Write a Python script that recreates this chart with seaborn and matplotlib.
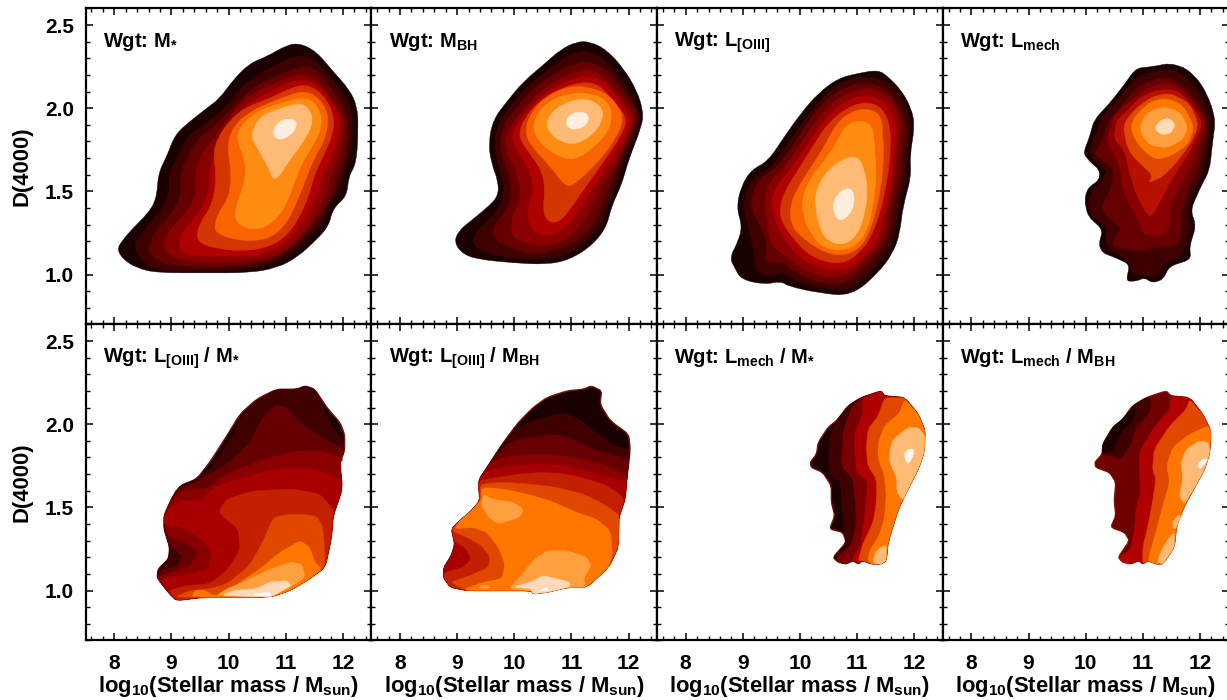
import numpy as np
import pandas as pd
import matplotlib
matplotlib.use('Agg')
import matplotlib.pyplot as plt
import seaborn as sns
from matplotlib.patches import PathPatch
from matplotlib.path import Path
from matplotlib.ticker import MultipleLocator

# --- contour outlines: (log10 stellar mass, D(4000)) ---

PANEL_TITLES = ['M_star', 'M_BH', 'L_OIII', 'L_mech',
                'L_OIII/M_star', 'L_OIII/M_BH', 'L_mech/M_star', 'L_mech/M_BH']

TITLE_TEXT = [r'Wgt: M$_{\mathbf{*}}$',
              r'Wgt: M$_{\mathbf{BH}}$',
              r'Wgt: L$_{\mathbf{[OIII]}}$',
              r'Wgt: L$_{\mathbf{mech}}$',
              r'Wgt: L$_{\mathbf{[OIII]}}$ / M$_{\mathbf{*}}$',
              r'Wgt: L$_{\mathbf{[OIII]}}$ / M$_{\mathbf{BH}}$',
              r'Wgt: L$_{\mathbf{mech}}$ / M$_{\mathbf{*}}$',
              r'Wgt: L$_{\mathbf{mech}}$ / M$_{\mathbf{BH}}$']

XTICKS = [8, 9, 10, 11, 12]
YTICKS = [1.0, 1.5, 2.0, 2.5]

TOP_COLORS = ['#1a0000', '#3f0000', '#660000', '#8a0000', '#b00000',
              '#d33600', '#f86400', '#ff8c12', '#ffbb75', '#ffeedd']
MECH_COLORS = ['#1a0000', '#3f0000', '#660000', '#8a0000', '#b81000',
               '#e04800', '#ff7700', '#ffa040', '#ffdcb8']
RATIO_COLORS = ['#1a0000', '#3f0000', '#660000', '#8a0000', '#a80000', '#c22000',
                '#e04800', '#ff7700', '#ffa040', '#ffd9b8', '#ffffff']
MS_COLORS = ['#1a0000', '#3f0000', '#7a0000', '#b00000', '#e04800', '#ff7700',
             '#ffbb75', '#ffbb75', '#fff5ee']
MBH_COLORS = ['#700000', '#3f0000', '#1a0000', '#b00000', '#e04800', '#ff7700',
              '#ffbb75', '#ffbb75', '#ffbb75', '#fff5ee']

PANEL1 = [
    [(8.05,1.15),(8.13,1.20),(8.33,1.28),(8.57,1.36),(8.74,1.45),(8.77,1.61),(8.92,1.71),(9.06,1.84),(9.32,1.92),(9.62,2.00),(9.85,2.06),(10.08,2.17),(10.37,2.27),(10.67,2.31),(11.02,2.38),(11.25,2.39),(11.54,2.34),(11.83,2.22),(12.12,2.11),(12.25,2.01),(12.27,1.89),(12.24,1.67),(12.10,1.59),(12.07,1.47),(11.83,1.40),(11.75,1.29),(11.54,1.21),(11.19,1.10),(10.84,1.04),(10.37,1.01),(9.62,1.01),(8.74,1.01),(8.39,1.04),(8.16,1.09)],
    [(8.33,1.16),(8.45,1.24),(8.74,1.35),(8.97,1.47),(8.95,1.61),(9.12,1.71),(9.27,1.83),(9.62,1.91),(9.97,2.01),(10.20,2.12),(10.49,2.20),(10.84,2.26),(11.19,2.32),(11.48,2.30),(11.75,2.20),(12.01,2.09),(12.15,1.99),(12.19,1.87),(12.10,1.67),(12.01,1.61),(11.95,1.51),(11.75,1.44),(11.66,1.31),(11.42,1.23),(11.07,1.12),(10.72,1.06),(10.32,1.03),(9.62,1.02),(8.80,1.02),(8.51,1.07)],
    [(8.58,1.16),(8.74,1.27),(8.97,1.35),(9.18,1.47),(9.15,1.61),(9.30,1.71),(9.44,1.81),(9.79,1.90),(10.14,2.03),(10.49,2.14),(10.90,2.20),(11.25,2.25),(11.51,2.24),(11.75,2.14),(11.98,2.03),(12.11,1.91),(12.04,1.69),(11.89,1.59),(11.83,1.47),(11.60,1.35),(11.37,1.25),(11.02,1.14),(10.67,1.08),(10.20,1.05),(9.50,1.04),(8.92,1.06),(8.68,1.10)],
    [(8.84,1.17),(8.97,1.27),(9.27,1.37),(9.44,1.48),(9.41,1.61),(9.50,1.71),(9.73,1.81),(9.97,1.93),(10.26,2.05),(10.61,2.12),(11.02,2.18),(11.31,2.21),(11.54,2.17),(11.77,2.07),(11.98,1.96),(12.03,1.89),(11.95,1.73),(11.80,1.61),(11.69,1.47),(11.48,1.33),(11.25,1.22),(10.90,1.12),(10.55,1.09),(9.97,1.07),(9.32,1.08),(8.97,1.11)],
    [(9.13,1.17),(9.18,1.25),(9.44,1.35),(9.65,1.47),(9.67,1.61),(9.73,1.71),(9.91,1.83),(10.08,1.93),(10.35,2.03),(10.67,2.09),(11.07,2.16),(11.42,2.17),(11.69,2.10),(11.92,1.97),(11.95,1.88),(11.86,1.75),(11.66,1.61),(11.54,1.47),(11.37,1.35),(11.13,1.23),(10.84,1.16),(10.49,1.11),(9.97,1.11),(9.44,1.11),(9.21,1.13)],
    [(9.44,1.23),(9.50,1.31),(9.73,1.43),(9.79,1.61),(9.73,1.71),(9.79,1.81),(10.02,1.93),(10.32,2.01),(10.67,2.05),(11.13,2.13),(11.42,2.14),(11.69,2.07),(11.85,1.95),(11.83,1.85),(11.69,1.73),(11.51,1.61),(11.40,1.47),(11.25,1.35),(11.02,1.23),(10.67,1.16),(10.20,1.14),(9.73,1.16),(9.50,1.19)],
    [(9.75,1.29),(9.82,1.37),(10.02,1.47),(10.05,1.63),(9.97,1.77),(10.08,1.89),(10.37,1.98),(10.84,2.05),(11.31,2.11),(11.60,2.06),(11.76,1.95),(11.69,1.81),(11.48,1.69),(11.31,1.53),(11.16,1.41),(11.02,1.31),(10.78,1.23),(10.49,1.20),(10.08,1.21),(9.79,1.25)],
    [(10.09,1.34),(10.17,1.45),(10.30,1.57),(10.29,1.69),(10.14,1.81),(10.20,1.89),(10.49,1.98),(10.90,2.03),(11.37,2.07),(11.57,2.01),(11.65,1.91),(11.51,1.79),(11.28,1.67),(11.13,1.53),(11.02,1.43),(10.84,1.33),(10.55,1.27),(10.26,1.28)],
    [(10.40,1.85),(10.55,1.95),(10.84,1.99),(11.19,2.03),(11.40,2.01),(11.49,1.92),(11.34,1.81),(11.07,1.69),(10.81,1.55),(10.70,1.64),(10.58,1.72),(10.43,1.80)],
    [(10.77,1.86),(10.87,1.92),(11.07,1.94),(11.20,1.92),(11.16,1.86),(10.96,1.81),(10.81,1.82)],
]

PANEL2 = [
    [(8.95,1.19),(9.02,1.26),(9.23,1.32),(9.52,1.40),(9.72,1.47),(9.72,1.56),(9.60,1.67),(9.55,1.79),(9.63,1.93),(9.87,2.04),(10.16,2.16),(10.51,2.26),(10.80,2.35),(11.09,2.40),(11.33,2.40),(11.62,2.35),(11.91,2.24),(12.14,2.11),(12.26,1.98),(12.23,1.89),(12.00,1.69),(11.88,1.54),(11.70,1.41),(11.62,1.29),(11.38,1.18),(10.98,1.09),(10.57,1.06),(9.98,1.07),(9.40,1.09),(9.11,1.12)],
    [(9.25,1.20),(9.34,1.26),(9.63,1.35),(9.81,1.45),(9.81,1.57),(9.69,1.69),(9.65,1.79),(9.72,1.91),(9.95,2.02),(10.25,2.14),(10.63,2.24),(10.92,2.32),(11.27,2.35),(11.56,2.30),(11.82,2.20),(12.05,2.08),(12.21,1.95),(12.14,1.87),(11.91,1.69),(11.79,1.54),(11.62,1.41),(11.53,1.30),(11.27,1.20),(10.92,1.12),(10.51,1.09),(9.93,1.10),(9.46,1.13)],
    [(9.62,1.25),(9.69,1.32),(9.93,1.41),(9.95,1.55),(9.81,1.69),(9.74,1.79),(9.81,1.90),(10.04,2.00),(10.33,2.12),(10.68,2.20),(11.03,2.27),(11.33,2.28),(11.62,2.23),(11.88,2.12),(12.11,2.01),(12.17,1.94),(12.06,1.86),(11.85,1.71),(11.70,1.55),(11.53,1.43),(11.44,1.32),(11.21,1.23),(10.86,1.16),(10.45,1.12),(9.98,1.15),(9.69,1.20)],
    [(9.94,1.27),(9.98,1.37),(10.13,1.47),(10.07,1.59),(9.90,1.71),(9.84,1.80),(9.93,1.89),(10.16,1.99),(10.45,2.10),(10.80,2.18),(11.15,2.23),(11.44,2.23),(11.73,2.12),(12.00,2.02),(12.11,1.94),(12.00,1.83),(11.80,1.67),(11.59,1.57),(11.38,1.43),(11.21,1.31),(10.92,1.21),(10.57,1.17),(10.16,1.19),(9.98,1.23)],
    [(10.23,1.31),(10.25,1.41),(10.33,1.51),(10.28,1.63),(10.04,1.75),(9.95,1.82),(10.04,1.91),(10.28,2.01),(10.57,2.10),(10.92,2.16),(11.27,2.20),(11.56,2.17),(11.82,2.06),(12.05,1.94),(11.95,1.83),(11.70,1.69),(11.48,1.58),(11.21,1.43),(10.98,1.31),(10.68,1.23),(10.39,1.24)],
    [(10.50,1.39),(10.54,1.51),(10.48,1.63),(10.22,1.75),(10.07,1.83),(10.16,1.93),(10.42,2.04),(10.80,2.12),(11.21,2.16),(11.50,2.14),(11.76,2.03),(11.98,1.94),(11.88,1.84),(11.55,1.67),(11.25,1.53),(10.98,1.39),(10.77,1.31),(10.57,1.32)],
    [(10.93,1.53),(10.80,1.57),(10.63,1.65),(10.33,1.76),(10.19,1.84),(10.25,1.95),(10.51,2.06),(10.92,2.13),(11.27,2.13),(11.62,2.09),(11.85,2.00),(11.91,1.92),(11.76,1.81),(11.50,1.69),(11.21,1.59),(11.03,1.54)],
    [(10.92,1.69),(10.57,1.75),(10.33,1.85),(10.36,1.95),(10.63,2.05),(10.98,2.09),(11.33,2.09),(11.62,2.05),(11.72,1.96),(11.65,1.86),(11.38,1.76),(11.12,1.70)],
    [(10.56,1.90),(10.63,1.97),(10.92,2.04),(11.27,2.06),(11.53,2.01),(11.56,1.94),(11.41,1.85),(11.09,1.78),(10.80,1.80),(10.63,1.85)],
    [(10.89,1.92),(11.00,1.97),(11.21,1.98),(11.31,1.95),(11.27,1.90),(11.09,1.87),(10.95,1.88)],
]

PANEL3 = [
    [(8.77,1.10),(8.92,1.20),(8.99,1.29),(8.89,1.40),(8.97,1.53),(9.15,1.63),(9.44,1.68),(9.73,1.83),(10.02,1.97),(10.32,2.09),(10.67,2.18),(11.02,2.21),(11.37,2.23),(11.54,2.19),(11.77,2.11),(11.95,2.00),(12.01,1.89),(11.92,1.71),(11.95,1.59),(11.80,1.41),(11.75,1.25),(11.63,1.13),(11.37,1.01),(10.90,0.87),(10.32,0.89),(9.79,0.93),(9.67,0.96),(9.38,0.94),(8.97,0.97),(8.86,1.04)],
    [(9.20,1.11),(9.15,1.21),(9.08,1.31),(9.00,1.41),(9.09,1.52),(9.24,1.60),(9.50,1.64),(9.79,1.79),(10.08,1.93),(10.40,2.07),(10.72,2.16),(11.07,2.19),(11.42,2.18),(11.66,2.12),(11.86,2.01),(11.95,1.88),(11.86,1.71),(11.86,1.59),(11.72,1.41),(11.67,1.25),(11.54,1.14),(11.25,1.02),(10.87,0.90),(10.32,0.92),(9.85,0.97),(9.73,1.02),(9.50,0.99),(9.24,1.01)],
    [(9.41,1.09),(9.41,1.23),(9.24,1.33),(9.12,1.43),(9.24,1.55),(9.44,1.61),(9.62,1.65),(9.91,1.79),(10.20,1.95),(10.49,2.06),(10.84,2.14),(11.25,2.15),(11.54,2.11),(11.77,1.99),(11.86,1.87),(11.77,1.69),(11.77,1.59),(11.63,1.41),(11.57,1.25),(11.42,1.15),(11.13,1.04),(10.81,0.94),(10.32,0.95),(9.91,1.01),(9.70,1.08),(9.44,1.07)],
    [(9.50,1.17),(9.44,1.29),(9.38,1.45),(9.47,1.56),(9.70,1.63),(10.02,1.79),(10.32,1.94),(10.61,2.05),(10.96,2.11),(11.31,2.12),(11.60,2.05),(11.75,1.95),(11.76,1.85),(11.69,1.69),(11.66,1.57),(11.54,1.41),(11.48,1.25),(11.31,1.15),(11.05,1.06),(10.75,0.98),(10.32,0.99),(9.97,1.05),(9.76,1.11)],
    [(9.65,1.25),(9.53,1.37),(9.50,1.47),(9.65,1.56),(9.79,1.61),(10.11,1.77),(10.40,1.92),(10.72,2.03),(11.07,2.08),(11.42,2.06),(11.66,1.95),(11.67,1.81),(11.63,1.65),(11.57,1.49),(11.45,1.33),(11.37,1.21),(11.13,1.11),(10.84,1.03),(10.43,1.03),(10.08,1.08),(9.85,1.16)],
    [(9.85,1.23),(9.66,1.33),(9.65,1.41),(9.73,1.50),(9.97,1.63),(10.26,1.79),(10.49,1.91),(10.81,2.00),(11.13,2.04),(11.42,2.01),(11.57,1.91),(11.59,1.77),(11.54,1.59),(11.42,1.39),(11.28,1.25),(11.10,1.15),(10.81,1.07),(10.49,1.07),(10.14,1.12)],
    [(9.97,1.24),(9.84,1.31),(9.82,1.40),(9.94,1.51),(10.20,1.65),(10.43,1.77),(10.64,1.91),(10.90,1.98),(11.19,2.00),(11.42,1.96),(11.45,1.85),(11.47,1.71),(11.42,1.53),(11.31,1.35),(11.19,1.23),(11.02,1.15),(10.72,1.11),(10.37,1.14)],
    [(10.20,1.24),(10.05,1.35),(10.04,1.47),(10.20,1.59),(10.49,1.71),(10.67,1.81),(10.78,1.89),(11.02,1.93),(11.28,1.90),(11.31,1.75),(11.34,1.59),(11.28,1.41),(11.19,1.27),(10.99,1.17),(10.67,1.14),(10.37,1.17)],
    [(10.37,1.25),(10.26,1.41),(10.29,1.52),(10.49,1.63),(10.78,1.70),(11.02,1.71),(11.13,1.63),(11.19,1.51),(11.13,1.35),(10.99,1.23),(10.78,1.18),(10.55,1.19)],
    [(10.57,1.41),(10.64,1.48),(10.81,1.52),(10.93,1.51),(10.96,1.43),(10.87,1.36),(10.72,1.32),(10.61,1.35)],
]

PANEL4 = [
    [(9.96,1.73),(10.07,1.83),(10.15,1.93),(10.42,2.03),(10.65,2.13),(10.88,2.24),(11.17,2.25),(11.47,2.27),(11.76,2.24),(12.02,2.15),(12.19,2.03),(12.27,1.92),(12.22,1.79),(12.17,1.63),(11.99,1.51),(11.84,1.39),(11.93,1.29),(11.82,1.17),(11.84,1.09),(11.47,1.05),(11.35,0.97),(11.17,0.95),(11.03,0.98),(10.88,0.96),(10.71,0.96),(10.77,1.06),(10.53,1.10),(10.30,1.13),(10.23,1.18),(10.30,1.27),(10.04,1.35),(9.98,1.45),(10.04,1.52),(10.24,1.57),(10.24,1.63),(10.07,1.68)],
    [(10.07,1.75),(10.18,1.85),(10.30,1.95),(10.53,2.04),(10.74,2.13),(10.94,2.20),(11.23,2.22),(11.52,2.23),(11.79,2.18),(12.02,2.08),(12.19,1.93),(12.14,1.79),(12.08,1.65),(11.93,1.53),(11.76,1.40),(11.84,1.29),(11.73,1.18),(11.67,1.11),(11.35,1.06),(11.29,1.00),(11.14,0.98),(11.00,1.01),(10.82,1.00),(10.77,1.07),(10.59,1.12),(10.39,1.15),(10.35,1.25),(10.36,1.29),(10.12,1.35),(10.04,1.41),(10.07,1.48),(10.33,1.59),(10.36,1.63),(10.15,1.68)],
    [(10.15,1.72),(10.30,1.81),(10.39,1.92),(10.59,2.00),(10.79,2.08),(11.00,2.15),(11.41,2.19),(11.73,2.13),(11.96,2.03),(12.14,1.91),(12.05,1.77),(11.96,1.63),(11.79,1.51),(11.67,1.37),(11.67,1.25),(11.61,1.18),(11.17,1.16),(10.88,1.14),(10.50,1.17),(10.47,1.21),(10.65,1.28),(10.42,1.33),(10.27,1.41),(10.44,1.50),(10.50,1.63),(10.30,1.69)],
    [(10.39,1.78),(10.42,1.89),(10.53,1.97),(10.88,2.07),(11.17,2.14),(11.52,2.15),(11.82,2.07),(12.09,1.93),(12.02,1.82),(11.87,1.67),(11.64,1.53),(11.47,1.41),(11.47,1.29),(11.35,1.23),(11.00,1.24),(10.91,1.33),(10.79,1.41),(10.65,1.51),(10.62,1.61),(10.53,1.71)],
    [(10.50,1.81),(10.53,1.92),(10.71,1.98),(10.94,2.06),(11.23,2.11),(11.58,2.11),(11.82,2.04),(12.05,1.91),(11.93,1.81),(11.73,1.69),(11.47,1.55),(11.29,1.43),(11.14,1.34),(11.00,1.40),(10.88,1.49),(10.77,1.61),(10.68,1.75)],
    [(10.65,1.90),(10.88,2.00),(11.17,2.07),(11.47,2.09),(11.82,2.03),(11.98,1.90),(11.84,1.79),(11.58,1.67),(11.35,1.59),(11.10,1.55),(11.17,1.60),(10.94,1.67),(10.74,1.75)],
    [(10.79,1.89),(10.88,1.96),(11.14,2.04),(11.41,2.06),(11.70,2.02),(11.90,1.89),(11.79,1.78),(11.47,1.71),(11.23,1.69),(11.00,1.75),(10.85,1.82)],
    [(10.95,1.89),(11.06,1.97),(11.35,2.01),(11.64,1.98),(11.79,1.89),(11.70,1.81),(11.41,1.76),(11.12,1.78),(11.00,1.83)],
    [(11.22,1.89),(11.32,1.93),(11.47,1.94),(11.57,1.90),(11.49,1.85),(11.35,1.84),(11.24,1.86)],
]

# lower right edge shared by the bands of the [OIII]/M* panel
P5_EDGE = [(11.80,1.32),(11.69,1.14),(11.37,1.06),(11.07,1.00),(10.72,0.96),(9.56,0.96),(9.09,0.94)]
P5_LEFT = [(8.97,0.98),(8.83,1.04),(8.75,1.08)]
PANEL5 = [
    [(8.75,1.08),(8.77,1.13),(8.95,1.19),(8.97,1.26),(8.87,1.37),(8.87,1.45),(9.00,1.55),(9.15,1.63),(9.44,1.67),(9.67,1.77),(9.97,1.93),(10.20,2.06),(10.49,2.15),(10.84,2.21),(11.19,2.21),(11.34,2.23),(11.51,2.21),(11.72,2.10),(11.95,2.01),(12.03,1.94),(12.03,1.84),(11.95,1.77),(11.99,1.61),(11.83,1.45)] + P5_EDGE + P5_LEFT[:2],
    [(8.75,1.08),(8.77,1.13),(8.95,1.19),(8.97,1.26),(8.87,1.37),(8.87,1.45),(9.00,1.55),(9.15,1.63),(9.44,1.67),(9.73,1.75),(10.08,1.93),(10.20,2.04),(10.49,2.14),(10.84,2.21),(11.19,2.21),(11.34,2.23),(11.51,2.21),(11.61,2.13),(11.77,2.01),(11.98,1.91),(12.03,1.84),(11.95,1.77),(11.99,1.61),(11.83,1.45)] + P5_EDGE + P5_LEFT[:2],
    [(8.75,1.08),(8.86,1.13),(9.09,1.14),(9.18,1.21),(8.95,1.28),(8.89,1.35),(8.87,1.45),(9.00,1.55),(9.09,1.61),(9.44,1.65),(9.73,1.71),(10.08,1.79),(10.37,1.89),(10.61,2.05),(10.84,2.12),(11.02,2.10),(11.25,2.01),(11.54,1.94),(11.83,1.88),(12.03,1.84),(11.95,1.77),(11.99,1.61),(11.83,1.45)] + P5_EDGE + P5_LEFT[:2],
    [(8.75,1.08),(9.03,1.11),(9.32,1.15),(9.47,1.22),(9.32,1.28),(8.97,1.32),(8.89,1.38),(8.87,1.45),(9.00,1.54),(9.09,1.58),(9.32,1.61),(9.62,1.61),(9.91,1.69),(10.32,1.75),(10.84,1.81),(11.25,1.84),(11.66,1.84),(12.01,1.79),(11.95,1.77),(11.99,1.61),(11.83,1.45)] + P5_EDGE + P5_LEFT[:2],
    [(8.80,1.07),(9.32,1.10),(9.65,1.13),(9.70,1.22),(9.56,1.30),(9.21,1.38),(8.89,1.39),(8.87,1.44),(8.95,1.49),(9.15,1.54),(9.50,1.54),(9.79,1.63),(10.20,1.67),(10.67,1.72),(11.13,1.74),(11.54,1.73),(11.95,1.67),(11.99,1.61),(11.83,1.45)] + P5_EDGE + P5_LEFT[:1],
    [(8.95,1.00),(9.27,1.03),(9.67,1.04),(9.97,1.12),(10.20,1.24),(10.17,1.37),(9.85,1.46),(9.85,1.49),(9.97,1.55),(10.43,1.60),(11.13,1.61),(11.60,1.58),(11.83,1.49),(11.83,1.45)] + P5_EDGE,
    [(9.06,0.96),(9.32,1.00),(9.67,1.01),(9.97,1.04),(10.37,1.15),(10.61,1.30),(10.78,1.44),(11.13,1.46),(11.54,1.45),(11.66,1.37)] + P5_EDGE[1:-1],
    [(9.35,0.96),(9.41,1.00),(9.59,1.00),(9.73,0.97),(9.91,0.98),(10.20,1.05),(10.55,1.13),(10.90,1.23),(11.25,1.30),(11.42,1.26),(11.51,1.17),(11.63,1.13),(11.37,1.06),(11.07,1.00),(10.72,0.96)],
    [(9.79,0.97),(9.97,1.01),(10.26,1.05),(10.67,1.12),(11.07,1.17),(11.28,1.16),(11.34,1.08),(11.13,1.03),(10.75,0.96)],
    [(9.88,0.97),(10.08,1.00),(10.49,1.01),(10.72,1.05),(11.02,1.06),(11.10,1.03),(10.84,0.98),(10.72,0.96)],
    [(10.43,0.98),(10.72,0.99),(10.75,0.97),(10.49,0.97)],
]

P6_EDGE = [(11.82,1.43),(11.82,1.26),(11.65,1.14),(11.27,1.02),(10.95,1.02),(10.57,0.99),(10.33,0.98),(10.30,1.00),(9.17,1.00)]
P6_LEFT = [(8.76,1.08),(8.77,1.14),(8.90,1.21),(8.96,1.28),(8.90,1.37),(9.05,1.42),(9.25,1.48),(9.40,1.54),(9.37,1.66)]
PANEL6 = [
    P6_LEFT + [(9.58,1.77),(9.81,1.89),(10.07,2.01),(10.33,2.10),(10.57,2.16),(10.92,2.20),(11.21,2.21),(11.35,2.23),(11.53,2.20),(11.50,2.12),(11.68,2.02),(12.00,1.94),(12.03,1.85),(11.97,1.67),(11.94,1.55)] + P6_EDGE + [(8.88,1.02)],
    P6_LEFT + [(9.58,1.77),(9.81,1.89),(10.07,1.98),(10.33,2.02),(10.63,2.05),(10.86,2.07),(11.09,2.04),(11.44,1.95),(11.73,1.87),(12.03,1.85),(11.97,1.67),(11.94,1.55)] + P6_EDGE + [(8.88,1.02)],
    P6_LEFT + [(9.58,1.77),(9.72,1.83),(9.98,1.90),(10.28,1.92),(10.74,1.94),(11.09,1.90),(11.44,1.84),(11.79,1.81),(12.01,1.79),(11.97,1.67),(11.94,1.55)] + P6_EDGE + [(8.88,1.02)],
    P6_LEFT + [(9.58,1.77),(9.93,1.81),(10.39,1.82),(10.86,1.81),(11.33,1.78),(11.68,1.74),(12.00,1.69),(11.97,1.67),(11.94,1.55)] + P6_EDGE + [(8.88,1.02)],
    P6_LEFT + [(9.46,1.70),(9.63,1.73),(9.98,1.75),(10.45,1.76),(10.92,1.75),(11.33,1.71),(11.68,1.68),(11.97,1.65),(11.94,1.55)] + P6_EDGE + [(8.88,1.02)],
    [(8.76,1.08),(8.79,1.11),(9.11,1.14),(9.25,1.19),(9.14,1.26),(8.96,1.29),(8.90,1.37),(9.05,1.42),(9.25,1.48),(9.40,1.54),(9.37,1.66),(9.69,1.68),(10.10,1.70),(10.51,1.71),(10.92,1.70),(11.27,1.67),(11.56,1.64),(11.85,1.58),(11.92,1.54)] + P6_EDGE + [(8.88,1.02)],
    [(8.88,1.05),(9.23,1.09),(9.55,1.14),(9.58,1.20),(9.43,1.27),(9.17,1.32),(8.96,1.35),(8.92,1.37),(9.05,1.42),(9.25,1.48),(9.40,1.54),(9.41,1.64),(9.81,1.65),(10.28,1.64),(10.74,1.62),(11.21,1.58),(11.56,1.52),(11.85,1.45)] + P6_EDGE[1:],
    [(9.14,1.01),(9.46,1.05),(9.78,1.07),(9.84,1.16),(9.72,1.26),(9.52,1.35),(9.28,1.38),(8.96,1.37),(9.05,1.42),(9.25,1.48),(9.42,1.54),(9.43,1.62),(9.81,1.61),(10.22,1.58),(10.63,1.54),(11.09,1.47),(11.44,1.43),(11.68,1.36),(11.72,1.22)] + P6_EDGE[2:],
    [(9.46,1.58),(9.60,1.55),(9.98,1.53),(10.16,1.49),(10.10,1.44),(9.72,1.40),(9.55,1.44),(9.43,1.51)],
    [(9.90,1.01),(10.10,1.08),(10.33,1.18),(10.57,1.24),(10.92,1.24),(11.27,1.20),(11.35,1.15),(11.21,1.07),(11.27,1.02),(10.95,1.02),(10.57,0.99),(10.33,0.98),(10.30,1.00)],
    [(9.37,1.02),(9.49,1.03),(9.58,1.02),(9.49,1.01)],
    [(9.98,1.02),(10.28,1.05),(10.51,1.09),(10.74,1.07),(10.98,1.05),(10.95,1.02),(10.57,0.99),(10.33,0.98),(10.30,1.01)],
    [(10.45,1.00),(10.57,1.02),(10.60,1.00),(10.51,1.00)],
]
PANEL6_LEVELS = [0, 1, 2, 3, 4, 5, 6, 7, 8, 8, 8, 9, 10]

P7_EDGE = [(11.83,2.16),(12.07,2.06),(12.19,1.96),(12.17,1.83),(12.07,1.73),(11.89,1.61),(11.72,1.49),(11.54,1.29),(11.51,1.18),(11.42,1.16),(11.25,1.16),(11.10,1.18),(11.02,1.16),(10.93,1.18),(10.81,1.16),(10.67,1.17)]
PANEL7 = [
    [(10.18,1.77),(10.29,1.82),(10.32,1.89),(10.49,1.98),(10.67,2.03),(10.84,2.11),(11.07,2.16),(11.42,2.20),(11.48,2.17)] + P7_EDGE + [(10.58,1.20),(10.81,1.29),(10.75,1.35),(10.52,1.37),(10.61,1.45),(10.55,1.53),(10.55,1.63),(10.40,1.71),(10.20,1.74)],
    [(10.52,1.93),(10.65,2.03),(10.84,2.11),(11.07,2.16),(11.42,2.20),(11.48,2.17)] + P7_EDGE + [(10.58,1.20),(10.81,1.27),(10.77,1.37),(10.74,1.51),(10.71,1.65),(10.52,1.70),(10.49,1.81)],
    [(10.75,1.95),(10.90,2.10),(11.07,2.16),(11.42,2.20),(11.48,2.17)] + P7_EDGE + [(10.65,1.20),(10.90,1.27),(10.99,1.41),(10.96,1.57),(10.93,1.67),(10.72,1.75),(10.75,1.86)],
    [(10.96,1.95),(11.09,2.05),(11.10,2.16),(11.42,2.20),(11.48,2.17)] + P7_EDGE[:-2] + [(10.93,1.20),(11.05,1.26),(11.10,1.37),(11.16,1.53),(11.18,1.66),(10.99,1.71),(10.96,1.83)],
    [(11.19,1.97),(11.37,2.05),(11.48,2.16)] + P7_EDGE[:-4] + [(11.02,1.18),(11.10,1.28),(11.28,1.41),(11.34,1.53),(11.34,1.67),(11.19,1.75),(11.16,1.85)],
    [(11.37,1.89),(11.48,1.99),(11.75,2.07),(11.83,2.15)] + P7_EDGE[1:-5] + [(11.19,1.18),(11.22,1.24),(11.37,1.32),(11.48,1.43),(11.51,1.57),(11.48,1.69),(11.37,1.79)],
    [(11.57,1.83),(11.63,1.91),(11.89,1.98),(12.07,1.98),(12.19,1.93),(12.17,1.83),(12.07,1.73),(11.89,1.61),(11.80,1.54),(11.70,1.59),(11.69,1.68),(11.57,1.77)],
    [(11.28,1.18),(11.34,1.24),(11.51,1.28),(11.51,1.18),(11.42,1.16),(11.31,1.16)],
    [(11.83,1.82),(11.89,1.85),(11.99,1.85),(11.98,1.81),(11.90,1.76),(11.84,1.79)],
]

P8_EDGE = [(11.82,2.16),(12.05,2.06),(12.19,1.96),(12.17,1.83),(12.08,1.73),(11.89,1.61),(11.73,1.51),(11.59,1.39),(11.55,1.26),(11.35,1.16),(11.23,1.16),(11.09,1.18),(11.00,1.16),(10.93,1.18),(10.79,1.16),(10.65,1.17)]
P8_TOP = [(10.30,1.88),(10.47,1.98),(10.65,2.03),(10.82,2.11)]
PANEL8 = [
    [(10.16,1.77),(10.29,1.82)] + P8_TOP + [(11.06,2.16),(11.41,2.20),(11.49,2.17)] + P8_EDGE + [(10.57,1.20),(10.77,1.30),(10.68,1.35),(10.44,1.38),(10.53,1.45),(10.50,1.54),(10.53,1.65),(10.42,1.71),(10.18,1.74)],
    [(10.29,1.82)] + P8_TOP + [(11.06,2.16),(11.14,2.16),(11.12,2.07),(10.88,1.99),(10.79,1.88),(10.62,1.79),(10.44,1.81)],
    [(10.30,1.82)] + P8_TOP[:3] + [(10.85,2.10),(10.88,2.09),(10.84,2.03),(10.62,1.95),(10.50,1.85)],
    [(11.49,2.17)] + P8_EDGE + [(10.57,1.20),(10.77,1.24),(10.85,1.35),(10.88,1.49),(10.97,1.61),(10.94,1.69),(10.94,1.83),(11.17,1.97),(11.47,2.09)],
    [(11.82,2.15)] + P8_EDGE[1:-3] + [(11.00,1.26),(11.09,1.39),(11.17,1.53),(11.23,1.67),(11.17,1.73),(11.20,1.85),(11.47,1.99),(11.76,2.09)],
    [(12.14,1.99)] + P8_EDGE[2:-4] + [(11.10,1.18),(11.12,1.22),(11.23,1.35),(11.35,1.51),(11.47,1.65),(11.42,1.75),(11.52,1.86),(11.82,1.94)],
    [(11.67,1.77),(11.76,1.85),(11.99,1.90),(12.15,1.89),(12.17,1.83),(12.08,1.73),(11.89,1.61),(11.73,1.52),(11.64,1.57),(11.70,1.67)],
    [(11.52,1.41),(11.61,1.45),(11.67,1.45),(11.59,1.38),(11.54,1.37)],
    [(11.26,1.17),(11.32,1.24),(11.47,1.32),(11.55,1.35),(11.55,1.26),(11.35,1.16)],
    [(11.96,1.76),(12.05,1.79),(12.14,1.79),(12.08,1.76),(12.00,1.73)],
]

ALL_PANELS = [PANEL1, PANEL2, PANEL3, PANEL4, PANEL5, PANEL6, PANEL7, PANEL8]
ALL_COLORS = [
    TOP_COLORS, TOP_COLORS, TOP_COLORS, MECH_COLORS, RATIO_COLORS,
    [RATIO_COLORS[i] for i in PANEL6_LEVELS], MS_COLORS, MBH_COLORS,
]
# how much each vertex gets rounded: the lower panels keep their sharper grid edges
ROUNDING = [0.5, 0.5, 0.5, 0.35, 0.25, 0.25, 0.25, 0.25]

# --- long table for the facets ---
rows = []
for p, (name, contours, colors) in enumerate(zip(PANEL_TITLES, ALL_PANELS, ALL_COLORS)):
    for c, pts in enumerate(contours):
        for x, y in pts:
            rows.append((name, p, c, colors[c], x, y))
df = pd.DataFrame(rows, columns=['panel', 'panel_id', 'contour', 'color', 'x', 'y'])


def dibujar_bandas(data, **kwargs):
    ax = plt.gca()
    panel_id = data['panel_id'].iloc[0]
    f = ROUNDING[panel_id]
    for c, band in data.groupby('contour', sort=True):
        pts = band[['x', 'y']].to_numpy()
        prev = np.roll(pts, 1, axis=0)
        nxt = np.roll(pts, -1, axis=0)
        verts = []
        codes = []
        for a, p, b in zip(pts + f * (prev - pts), pts, pts + f * (nxt - pts)):
            verts += [a, p, b]
            codes += [Path.LINETO if verts[3:] else Path.MOVETO, Path.CURVE3, Path.CURVE3]
        verts.append(verts[0])
        codes.append(Path.LINETO)
        color = band['color'].iloc[0]
        edge = color
        lw = 0.3
        # thin dark red rim around the lower panels
        if panel_id >= 4 and c == 0:
            edge = '#7a1000'
            lw = 1.0
        ax.add_patch(PathPatch(Path(verts, codes), facecolor=color, edgecolor=edge, linewidth=lw, zorder=2))


sns.set_theme(style='ticks')
plt.rcParams['font.family'] = ['Liberation Sans', 'DejaVu Sans']
plt.rcParams['font.weight'] = 'bold'
plt.rcParams['mathtext.fontset'] = 'custom'
plt.rcParams['mathtext.bf'] = 'Liberation Sans:bold'
plt.rcParams['mathtext.rm'] = 'Liberation Sans:bold'
plt.rcParams['mathtext.it'] = 'Liberation Sans:bold'
plt.rcParams['text.color'] = 'black'
plt.rcParams['axes.labelcolor'] = 'black'
plt.rcParams['xtick.labelcolor'] = 'black'
plt.rcParams['ytick.labelcolor'] = 'black'

g = sns.FacetGrid(df, col='panel', col_order=PANEL_TITLES, col_wrap=4, sharex=True, sharey=True, despine=False)
g.map_dataframe(dibujar_bandas)
g.set_titles('')
g.set_axis_labels('', '')
g.figure.set_size_inches(12.27, 7)

W, H = 1227.0, 700.0
for i, ax in enumerate(g.axes.flat):
    col = i % 4
    row = i // 4
    left = 85.7 + col * 285.7
    top = 8.4 if row == 0 else 324.4
    ax.set_position([left / W, 1 - (top + 316.0) / H, 285.7 / W, 316.0 / H])
    ax.set_xlim(7.5, 12.5)
    ax.set_ylim(0.7, 2.6)
    ax.set_xticks(XTICKS)
    ax.set_yticks(YTICKS)
    ax.xaxis.set_minor_locator(MultipleLocator(0.2))
    ax.yaxis.set_minor_locator(MultipleLocator(0.1))
    ax.tick_params(which='major', direction='in', top=True, right=True, length=5, width=1.1, color='black')
    ax.tick_params(which='minor', direction='in', top=True, right=True, length=2.6, width=1.0, color='black')
    ax.tick_params(axis='both', labelsize=15, labelbottom=row == 1, labelleft=col == 0)
    ax.tick_params(axis='x', pad=9.5)
    ax.tick_params(axis='y', pad=8.5)
    ax.set_yticklabels(['%.1f' % t for t in YTICKS], fontweight='bold')
    ax.set_xticklabels([str(t) for t in XTICKS], fontweight='bold')
    for s in ax.spines.values():
        s.set_linewidth(1.6)
        s.set_color('black')
    ax.grid(False)
    ax.text(0.06, 0.878, TITLE_TEXT[i], transform=ax.transAxes, fontsize=14.5, fontweight='bold', color='black', va='baseline', zorder=5)
    if row == 1:
        ax.set_xlabel(r'log$_{\mathbf{10}}$(Stellar mass / M$_{\mathbf{sun}}$)', fontsize=15.8, fontweight='bold', labelpad=1.0)
    if col == 0:
        ax.set_ylabel('D(4000)', fontsize=15.8, fontweight='bold', labelpad=9)

g.figure.savefig('out.png', dpi=100)
